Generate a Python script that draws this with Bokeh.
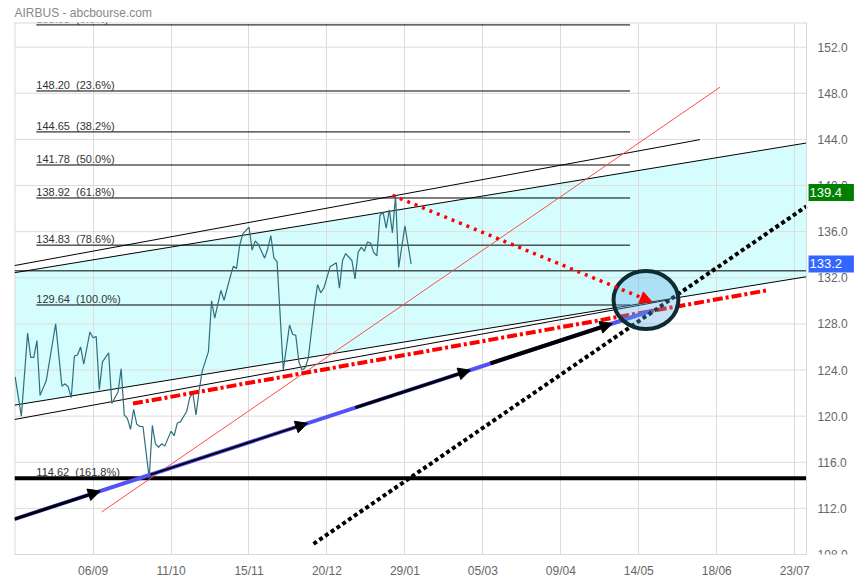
from bokeh.plotting import figure
from bokeh.models import (FixedTicker, Label, Arrow, NormalHead, Range1d,
                          NumeralTickFormatter)
from bokeh.embed import file_html
from bokeh.resources import INLINE
from bokeh.core.properties import value

# ---------------- data ----------------
title_text = "AIRBUS - abcbourse.com"

# trading-day index (0 = 06/09) and closing prices
days = [-25, -23, -21, -20, -19, -18, -17, -15, -12, -10, -9, -8, -7, -6, -5, -4, -3, -1,
        0, 1, 2, 3, 5, 6, 8, 9, 10, 11, 12, 13, 14, 15, 16, 18, 19, 20, 21, 22, 23,
        25, 26, 27, 28, 30, 31, 32, 33, 34, 35, 37, 38, 39, 41, 42, 44, 45, 46, 47, 48,
        50, 51, 52, 53, 55, 56, 57, 58, 59, 61, 63, 64, 65, 66, 67, 68, 69, 71, 72, 73,
        74, 76, 78, 79, 80, 81, 83, 84, 85, 86, 87, 88, 89, 90, 91, 92, 93, 94, 95, 96,
        97, 98, 100, 102]
close = [123.4, 120.0, 127.2, 125.1, 125.1, 126.55, 121.8, 123.1, 128.0, 122.6, 122.8, 122.55,
         121.6, 125.2, 125.3, 126.0, 124.5, 127.3,
         126.8, 126.9, 122.3, 124.7, 125.5, 121.1, 122.1, 124.1, 120.1, 119.8, 118.85, 120.6,
         119.3, 119.1, 119.1, 114.62, 119.2, 117.6, 117.3, 117.6, 117.4,
         118.7, 118.3, 119.4, 119.5, 120.4, 121.6, 122.0, 120.1, 122.2, 123.9, 125.6, 130.0,
         128.5, 130.9, 130.05, 132.1, 133.0, 132.8, 134.8, 135.8,
         136.4, 134.4, 135.2, 134.9, 133.7, 134.5, 135.65, 133.7, 133.4, 124.0, 127.9, 127.1,
         127.0, 124.7, 124.0, 124.2, 125.0, 129.6, 131.4, 130.7,
         131.1, 132.95, 133.3, 131.1, 133.5, 134.1, 133.5, 131.9, 134.2, 134.65, 134.3, 135.1,
         135.0, 134.2, 133.9, 137.4, 137.7, 136.3, 137.9, 135.9,
         139.1, 132.9, 136.5, 133.2]

tick_days = [0, 25, 50, 75, 100, 125, 150, 175, 200, 225]
tick_labels = ["06/09", "11/10", "15/11", "20/12", "29/01", "05/03", "09/04", "14/05", "18/06", "23/07"]
y_ticks = [108, 112, 116, 120, 124, 128, 132, 136, 140, 144, 148, 152]

# Fibonacci retracement
fib_ratios = ["0.0%", "23.6%", "38.2%", "50.0%", "61.8%", "78.6%", "100.0%", "161.8%"]
fib_values = [153.93, 148.20, 144.65, 141.78, 138.92, 134.83, 129.64, 114.62]
fib_start = -18.2
fib_end = 172.2

hline_level = 132.6
last_price = 133.2
high_mark = 139.4

# drawn trend lines: (t0, v0, t1, v1)
chan_upper_a = (-25.2, 133.06, 194.6, 143.98)
chan_upper_b = (-25.2, 132.44, 228.8, 143.69)
chan_lower_a = (-25.2, 120.95, 228.8, 132.09)
chan_lower_b = (-25.2, 119.71, 185.0, 130.10)
red_thin = (2.7, 111.68, 201.1, 148.54)
red_dashdot = (12.8, 121.09, 215.8, 130.89)
red_dotted_arrow = (96.0, 139.15, 179.3, 129.9)
black_dotted = (70.7, 108.92, 228.8, 138.2)
blue_line = (-25.2, 111.07, 179.3, 129.16)
black_arrows = [(-25.2, 111.07, 2.3, 113.50, 3),
                (18.4, 114.93, 68.8, 119.38, 2),
                (84.1, 120.74, 121.0, 123.99, 3),
                (127.4, 124.58, 166.5, 128.03, 4)]
circle_center = (177.3, 130.07)
circle_size = (20.8, 5.03)

# chart area (data) and the extra room to its right for the price scale
X_LEFT, X_AXIS = -25.2, 228.8
X_RIGHT = 244.5
Y_RANGE = (108.0, 154.14)

FONT = "Liberation Sans"
NBSP = "\u00a0"
GRID = "#dcdcdc"
EDGE = "#d9d9d9"

# ---------------- figure ----------------
p = figure(width=855, height=580, output_backend="svg", toolbar_location=None,
           title=title_text,
           x_range=Range1d(X_LEFT, X_RIGHT), y_range=Range1d(*Y_RANGE),
           y_axis_location="right",
           min_border_left=14, min_border_right=0, min_border_top=22, min_border_bottom=22)
p.background_fill_color = "white"
p.border_fill_color = "white"
p.outline_line_color = None

p.title.text_font = FONT
p.title.text_font_size = "12px"
p.title.text_font_style = "normal"
p.title.text_color = "#888888"
p.title.align = "left"
p.title.standoff = 5

p.xaxis.ticker = FixedTicker(ticks=tick_days)
p.xaxis.major_label_overrides = {d: l for d, l in zip(tick_days, tick_labels)}
p.xaxis.bounds = (X_LEFT, X_AXIS)
p.yaxis.ticker = FixedTicker(ticks=y_ticks)
p.yaxis.formatter = NumeralTickFormatter(format="0.0")
p.yaxis.fixed_location = X_AXIS
for ax in (p.xaxis, p.yaxis):
    ax.axis_line_color = EDGE
    ax.major_tick_line_color = None
    ax.minor_tick_line_color = None
    ax.major_label_text_color = "#666666"
    ax.major_label_text_font = FONT
    ax.major_label_text_font_size = "12px"
p.xaxis.major_label_standoff = 3
p.yaxis.major_label_standoff = 5
p.xgrid.ticker = FixedTicker(ticks=tick_days)
p.xgrid.grid_line_color = GRID
p.ygrid.visible = False

# horizontal grid limited to the chart area
p.segment(x0=[X_LEFT] * len(y_ticks), y0=y_ticks, x1=[X_AXIS] * len(y_ticks), y1=y_ticks,
          line_color=GRID, line_width=1, level="underlay")
# chart area edges (top, left)
p.segment(x0=[X_LEFT, X_LEFT], y0=[Y_RANGE[1], Y_RANGE[0]], x1=[X_AXIS, X_LEFT],
          y1=[Y_RANGE[1], Y_RANGE[1]], line_color=EDGE, line_width=2, level="underlay")

# cyan channel fill (below grid)
p.varea(x=[chan_upper_b[0], chan_upper_b[2]],
        y1=[chan_lower_a[1], chan_lower_a[3]],
        y2=[chan_upper_b[1], chan_upper_b[3]],
        fill_color="#d6fdfd", level="image")

# Fibonacci levels
p.segment(x0=[fib_start] * len(fib_values), y0=fib_values,
          x1=[fib_end] * len(fib_values), y1=fib_values,
          line_color="black", line_width=1)
p.text(x=[fib_start] * len(fib_values), y=fib_values,
       text=[f"{v:.2f}{NBSP} ({r})" for v, r in zip(fib_values, fib_ratios)],
       text_font=value(FONT), text_font_size="11px", text_color="#333333",
       text_baseline="bottom", text_align="left")

# full-width horizontal lines
p.segment(x0=[X_LEFT], y0=[fib_values[-1]], x1=[X_AXIS], y1=[fib_values[-1]],
          line_color="black", line_width=4)
p.segment(x0=[X_LEFT], y0=[hline_level], x1=[X_AXIS], y1=[hline_level],
          line_color="black", line_width=1)

# channel lines
for ln in (chan_upper_a, chan_upper_b, chan_lower_a, chan_lower_b):
    p.segment(x0=[ln[0]], y0=[ln[1]], x1=[ln[2]], y1=[ln[3]], line_color="black", line_width=1)

# red thin line
p.segment(x0=[red_thin[0]], y0=[red_thin[1]], x1=[red_thin[2]], y1=[red_thin[3]],
          line_color="#ff4c4c", line_width=1)

# price
p.line(days, close, line_color="#2f6e7e", line_width=1.2)

# red dash-dot
p.segment(x0=[red_dashdot[0]], y0=[red_dashdot[1]], x1=[red_dashdot[2]], y1=[red_dashdot[3]],
          line_color="red", line_width=4, line_dash="10 3 3 3")

# blue line
p.segment(x0=[blue_line[0]], y0=[blue_line[1]], x1=[blue_line[2]], y1=[blue_line[3]],
          line_color="#5353f3", line_width=4)

# black dotted
p.segment(x0=[black_dotted[0]], y0=[black_dotted[1]], x1=[black_dotted[2]], y1=[black_dotted[3]],
          line_color="black", line_width=4, line_dash="4 3")

# circle
p.ellipse(x=[circle_center[0]], y=[circle_center[1]], width=[circle_size[0]], height=[circle_size[1]],
          fill_color="#5dade2", fill_alpha=0.35, line_color="#0d2b33", line_width=4)

# red dotted arrow
p.add_layout(Arrow(end=NormalHead(size=12, fill_color="red", line_color="red"),
                   x_start=red_dotted_arrow[0], y_start=red_dotted_arrow[1],
                   x_end=red_dotted_arrow[2], y_end=red_dotted_arrow[3],
                   line_color="red", line_width=3.5, line_dash="3 5"))

# black arrows along blue line
for (x0, y0, x1, y1, w) in black_arrows:
    p.add_layout(Arrow(end=NormalHead(size=12, fill_color="black", line_color="black"),
                       x_start=x0, y_start=y0, x_end=x1, y_end=y1,
                       line_color="black", line_width=w))

# price tags on the price scale
def tag(val, color):
    p.add_layout(Label(x=X_AXIS, y=val, x_offset=2, text=f"{val:.1f}" + NBSP * 3,
                       text_color="white", text_font=FONT, text_font_size="13px",
                       text_baseline="middle", background_fill_color=color, padding=1))

tag(high_mark, "#008000")
tag(last_price, "#3366ff")

open("out.html", "w").write(file_html(p, INLINE))
